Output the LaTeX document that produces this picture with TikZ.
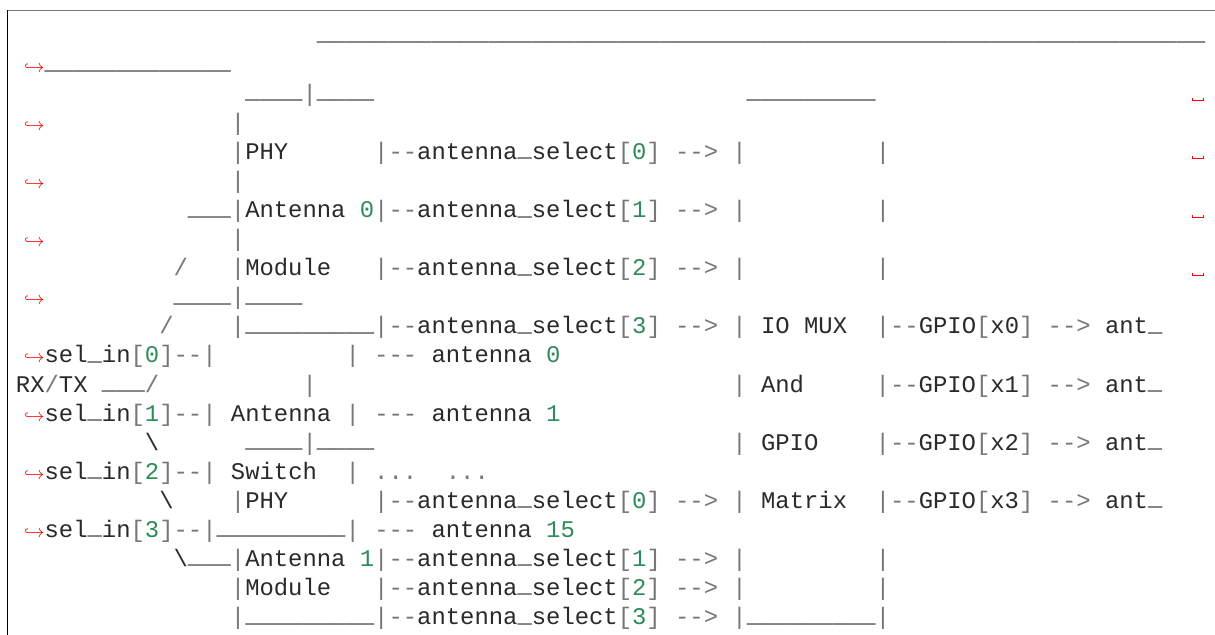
\documentclass[tikz,border=0pt]{standalone}
\usepackage{fontspec}
\setmonofont{Liberation Mono}
\usepackage{xcolor}
\definecolor{txt}{HTML}{2A2A2A}
\definecolor{opc}{HTML}{777777}
\definecolor{numc}{HTML}{2E8B5A}
\definecolor{topline}{HTML}{777777}
\newlength\cw
\setlength\cw{7.164pt}
\newlength\ur
\setlength\ur{1.3pt}
\newcommand\op[1]{\textcolor{opc}{#1}}
\newcommand\nm[1]{\textcolor{numc}{#1}}
\newcommand\spc[1]{\hspace*{#1\cw}}
\newcommand\usc{\raisebox{\ur}{\_}}
\ExplSyntaxOn
\cs_new:Npn \uss #1 {\prg_replicate:nn{#1}{\usc}}
\ExplSyntaxOff
\newcommand\contmark{\makebox[2\cw][r]{\textcolor{red}{\fontsize{9}{9}\selectfont$\hookrightarrow$}}}
\newcommand\vismark{\makebox[\cw][c]{\textcolor{red}{\rule{0.5pt}{1.5pt}\rule{5pt}{0.5pt}\rule{0.5pt}{1.5pt}}}}
\tikzset{
  codeline/.style={anchor=base west, inner sep=0pt, outer sep=0pt, text=txt,
    font=\ttfamily\fontsize{11.94}{14.5}\selectfont},
}
\begin{document}
\begin{tikzpicture}[x=0.5pt,y=-0.5pt]
\useasboundingbox (0,0) rectangle (1215,635);
\fill[white] (0,0) rectangle (1215,635);
\draw[topline, line width=0.75pt] (7,10.5) -- (1215,10.5);
\draw[black, line width=0.5pt] (7.5,10.5) -- (7.5,635);
\def\rowy#1{43.2+(#1-1)*29.07}
\node[codeline] (r1) at (16,{\rowy{1}}) {\spc{21}\uss{62}};
\node[codeline] (r2) at (16,{\rowy{2}}) {\contmark\uss{13}};
\node[codeline] (r3) at (16,{\rowy{3}}) {\spc{16}\uss{4}\op{|}\uss{4}\spc{26}\uss{9}\spc{22}\vismark};
\node[codeline] (r4) at (16,{\rowy{4}}) {\contmark\spc{13}\op{|}};
\node[codeline] (r5) at (16,{\rowy{5}}) {\spc{15}\op{|}PHY\spc{6}\op{|--}antenna\usc select\op{[}\nm{0}\op{]}\ \op{-->}\ \op{|}\spc{9}\op{|}\spc{21}\vismark};
\node[codeline] (r6) at (16,{\rowy{6}}) {\contmark\spc{13}\op{|}};
\node[codeline] (r7) at (16,{\rowy{7}}) {\spc{12}\uss{3}\op{|}Antenna\ \nm{0}\op{|--}antenna\usc select\op{[}\nm{1}\op{]}\ \op{-->}\ \op{|}\spc{9}\op{|}\spc{21}\vismark};
\node[codeline] (r8) at (16,{\rowy{8}}) {\contmark\spc{13}\op{|}};
\node[codeline] (r9) at (16,{\rowy{9}}) {\spc{11}\op{/}\spc{3}\op{|}Module\spc{3}\op{|--}antenna\usc select\op{[}\nm{2}\op{]}\ \op{-->}\ \op{|}\spc{9}\op{|}\spc{21}\vismark};
\node[codeline] (r10) at (16,{\rowy{10}}) {\contmark\spc{9}\uss{4}\op{|}\uss{4}};
\node[codeline] (r11) at (16,{\rowy{11}}) {\spc{10}\op{/}\spc{4}\op{|}\uss{9}\op{|--}antenna\usc select\op{[}\nm{3}\op{]}\ \op{-->}\ \op{|}\ IO\ MUX\spc{2}\op{|--}GPIO\op{[}x0\op{]}\ \op{-->}\ ant\usc};
\node[codeline] (r12) at (16,{\rowy{12}}) {\contmark sel\usc in\op{[}\nm{0}\op{]--|}\spc{9}\op{|}\ \op{---}\ antenna\ \nm{0}};
\node[codeline] (r13) at (16,{\rowy{13}}) {RX\op{/}TX\ \uss{3}\op{/}\spc{10}\op{|}\spc{29}\op{|}\ And\spc{5}\op{|--}GPIO\op{[}x1\op{]}\ \op{-->}\ ant\usc};
\node[codeline] (r14) at (16,{\rowy{14}}) {\contmark sel\usc in\op{[}\nm{1}\op{]--|}\ Antenna\ \op{|}\ \op{---}\ antenna\ \nm{1}};
\node[codeline] (r15) at (16,{\rowy{15}}) {\spc{9}\textbackslash\spc{6}\uss{4}\op{|}\uss{4}\spc{25}\op{|}\ GPIO\spc{4}\op{|--}GPIO\op{[}x2\op{]}\ \op{-->}\ ant\usc};
\node[codeline] (r16) at (16,{\rowy{16}}) {\contmark sel\usc in\op{[}\nm{2}\op{]--|}\ Switch\spc{2}\op{|}\ \op{...}\spc{2}\op{...}};
\node[codeline] (r17) at (16,{\rowy{17}}) {\spc{10}\textbackslash\spc{4}\op{|}PHY\spc{6}\op{|--}antenna\usc select\op{[}\nm{0}\op{]}\ \op{-->}\ \op{|}\ Matrix\spc{2}\op{|--}GPIO\op{[}x3\op{]}\ \op{-->}\ ant\usc};
\node[codeline] (r18) at (16,{\rowy{18}}) {\contmark sel\usc in\op{[}\nm{3}\op{]--|}\uss{9}\op{|}\ \op{---}\ antenna\ \nm{15}};
\node[codeline] (r19) at (16,{\rowy{19}}) {\spc{11}\textbackslash\uss{3}\op{|}Antenna\ \nm{1}\op{|--}antenna\usc select\op{[}\nm{1}\op{]}\ \op{-->}\ \op{|}\spc{9}\op{|}};
\node[codeline] (r20) at (16,{\rowy{20}}) {\spc{15}\op{|}Module\spc{3}\op{|--}antenna\usc select\op{[}\nm{2}\op{]}\ \op{-->}\ \op{|}\spc{9}\op{|}};
\node[codeline] (r21) at (16,{\rowy{21}}) {\spc{15}\op{|}\uss{9}\op{|--}antenna\usc select\op{[}\nm{3}\op{]}\ \op{-->}\ \op{|}\uss{9}\op{|}};
\end{tikzpicture}
\end{document}
